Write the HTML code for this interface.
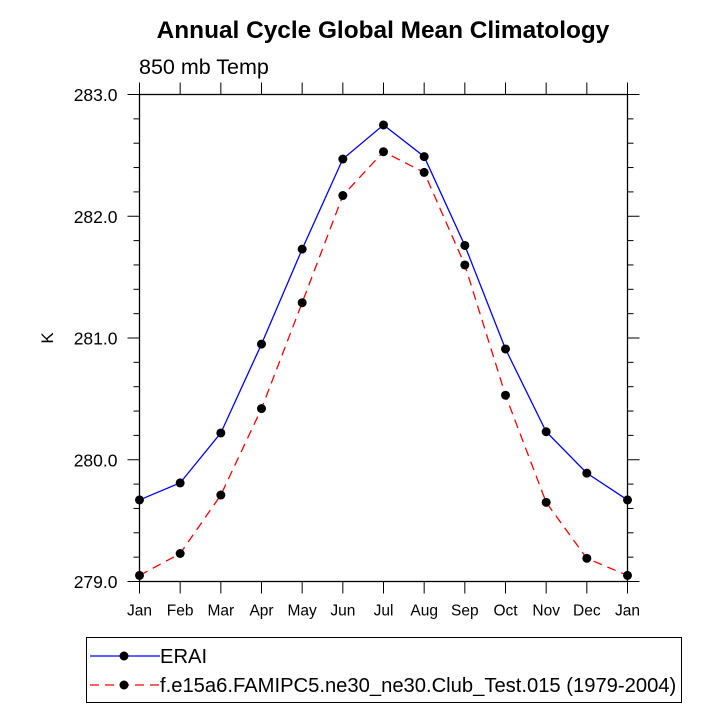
<!DOCTYPE html>
<html><head><meta charset="utf-8"><style>
body{margin:0;background:#fff;width:722px;height:722px;overflow:hidden}
text{font-family:"Liberation Sans",sans-serif}
</style></head><body>
<svg id="chart" width="722" height="722" xmlns="http://www.w3.org/2000/svg">
<text x="383" y="38" text-anchor="middle" font-size="24.4" font-weight="bold">Annual Cycle Global Mean Climatology</text>
<text x="139" y="74" font-size="21.5">850 mb Temp</text>
<text x="53" y="338" font-size="17" text-anchor="middle" transform="rotate(-90 53 338)">K</text>
<g id="axes"></g><g id="series"></g>
<g>
<rect x="86.5" y="637.5" width="595" height="65" fill="none" stroke="#000" stroke-width="1"/>
<line x1="90" y1="656" x2="160" y2="656" stroke="#00f" stroke-width="1.3"/>
<circle cx="124" cy="656" r="4.5" fill="#000"/>
<text x="160" y="663" font-size="20.2">ERAI</text>
<line x1="90" y1="685" x2="160" y2="685" stroke="#f00" stroke-width="1.3" stroke-dasharray="9,6"/>
<circle cx="124" cy="685" r="4.5" fill="#000"/>
<text x="160" y="692" font-size="20.2">f.e15a6.FAMIPC5.ne30_ne30.Club_Test.015 (1979-2004)</text>
</g>
</svg>
<script>
const months=["Jan","Feb","Mar","Apr","May","Jun","Jul","Aug","Sep","Oct","Nov","Dec","Jan"];
const eraiValues=[279.67,279.81,280.22,280.95,281.73,282.47,282.75,282.49,281.76,280.91,280.23,279.89,279.67];
const modelValues=[279.05,279.23,279.71,280.42,281.29,282.17,282.53,282.36,281.60,280.53,279.65,279.19,279.05];
const yTicks=[279.0,280.0,281.0,282.0,283.0];
const yTickLabels=["279.0","280.0","281.0","282.0","283.0"];
const L=139.5,R=627.5,T=94.5,B=581.5,yMin=279,yMax=283;
const xs=i=>L+(R-L)*i/(months.length-1);
const ys=v=>B-(B-T)*(v-yMin)/(yMax-yMin);
const NS="http://www.w3.org/2000/svg";
function mk(tag,attrs,parent){const e=document.createElementNS(NS,tag);for(const k in attrs)e.setAttribute(k,attrs[k]);parent.appendChild(e);return e;}
const ax=document.getElementById('axes');
const frame=mk('rect',{x:L,y:T,width:R-L,height:B-T,fill:'none',stroke:'#000','stroke-width':1.3},ax);


months.forEach((m,i)=>{const x=xs(i);
mk('line',{x1:x,y1:B,x2:x,y2:B+12,stroke:'#000','stroke-width':1},ax);
mk('line',{x1:x,y1:T,x2:x,y2:T-12,stroke:'#000','stroke-width':1},ax);
const t=mk('text',{x:x,y:B+34,'text-anchor':'middle','font-size':15.5},ax);t.textContent=m;


});
for(let v=yMin;v<=yMax+1e-9;v+=0.2){const y=ys(v);const major=Math.abs(v-Math.round(v))<1e-6;const len=major?12:6;
mk('line',{x1:L,y1:y,x2:L-len,y2:y,stroke:'#000','stroke-width':1},ax);
mk('line',{x1:R,y1:y,x2:R+len,y2:y,stroke:'#000','stroke-width':1},ax);}
yTicks.forEach((v,i)=>{const t=mk('text',{x:L-22,y:ys(v)+6.5,'text-anchor':'end','font-size':17.5},ax);t.textContent=yTickLabels[i];


});
const sg=document.getElementById('series');
function draw(vals,color,dash,name){
const pl=mk('polyline',{points:vals.map((v,i)=>xs(i)+','+ys(v)).join(' '),fill:'none',stroke:color,'stroke-width':1.3,'stroke-dasharray':dash},sg);


vals.forEach((v,i)=>{const c=mk('circle',{cx:xs(i),cy:ys(v),r:4.5,fill:'#000'},sg);

});
}
draw(eraiValues,'#00f','none','erai');
draw(modelValues,'#f00','9,6','model');
</script>
</body></html>
